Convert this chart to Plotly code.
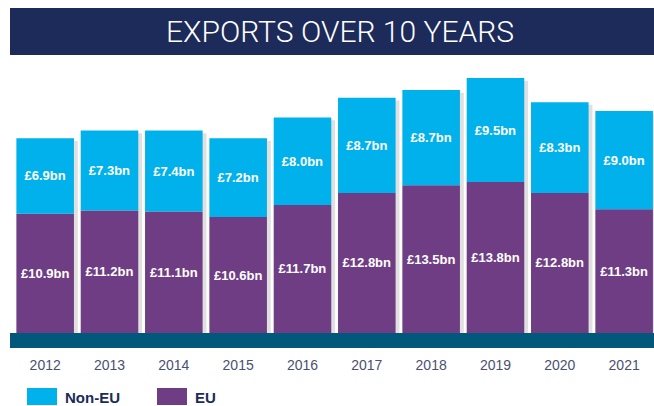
import plotly.graph_objects as go

years = ["2012", "2013", "2014", "2015", "2016", "2017", "2018", "2019", "2020", "2021"]
eu = [10.9, 11.2, 11.1, 10.6, 11.7, 12.8, 13.5, 13.8, 12.8, 11.3]
non_eu = [6.9, 7.3, 7.4, 7.2, 8.0, 8.7, 8.7, 9.5, 8.3, 9.0]
totals = [a + b for a, b in zip(eu, non_eu)]

CYAN = "#00b1eb"
PURPLE = "#6f3d84"
NAVY = "#1c2b59"
TEAL = "#02587b"

W = 0.895  # bar width in category units
L, PW, PH, BOT = 13, 641, 273, 333  # plot area in pixels


def px(x):
    return (x - L) / PW


def py(y):
    return (BOT - y) / PH


fig = go.Figure()
# soft shadow on the right of each bar
fig.add_trace(go.Bar(x=years, y=[t - 0.25 for t in totals], base=0, width=W, offset=-W / 2 + 0.06,
                     marker_color="#e0e0e0", hoverinfo="skip"))
fig.add_trace(go.Bar(x=years, y=eu, name="EU", marker_color=PURPLE, width=W, offset=-W / 2,
                     texttemplate="£%{y:.1f}bn", textposition="inside",
                     insidetextanchor="middle"))
fig.add_trace(go.Bar(x=years, y=non_eu, base=eu, name="Non-EU", marker_color=CYAN,
                     width=W, offset=-W / 2,
                     texttemplate="£%{y:.1f}bn", textposition="inside",
                     insidetextanchor="middle"))
fig.update_traces(marker_line_width=0,
                  textfont=dict(family="Liberation Sans", size=13, color="white", weight="bold"),
                  textangle=0, constraintext="none")

fig.update_layout(
    width=654, height=406,
    margin=dict(l=L, r=0, t=60, b=73),
    barmode="overlay",
    plot_bgcolor="white", paper_bgcolor="white",
    showlegend=False,
    uniformtext=dict(minsize=13, mode="show"),
    xaxis=dict(showgrid=False, zeroline=False, showline=False, ticks="",
               range=[-0.5, -0.5 + PW / 64.33],
               tickfont=dict(family="Liberation Sans", size=14, color="#4a5072"),
               ticklabelstandoff=22),
    yaxis=dict(range=[0, 24.95], visible=False),
)

# title bar
fig.add_shape(type="rect", xref="paper", yref="paper", x0=px(10), x1=px(654),
              y0=py(55), y1=py(8), fillcolor=NAVY, line_width=0, layer="below")
fig.add_annotation(text="EXPORTS OVER 10 YEARS", xref="paper", yref="paper",
                   x=px(340), y=py(32), showarrow=False,
                   font=dict(family="Roboto", size=30, color="white", weight=300),
                   xanchor="center", yanchor="middle")

# teal base band
fig.add_shape(type="rect", xref="paper", yref="paper", x0=px(10), x1=px(654),
              y0=py(348), y1=py(333), fillcolor=TEAL, line_width=0)

# legend
legend_items = [("Non-EU", CYAN), ("EU", PURPLE)]
lx = [27, 157]
for (name, col), x0 in zip(legend_items, lx):
    fig.add_shape(type="rect", xref="paper", yref="paper",
                  x0=px(x0), x1=px(x0 + 30), y0=py(405), y1=py(388),
                  fillcolor=col, line_width=0)
    fig.add_annotation(text=name, xref="paper", yref="paper",
                       x=px(x0 + 36), y=py(397),
                       xanchor="left", yanchor="middle", showarrow=False,
                       font=dict(family="Liberation Sans", size=15, color=NAVY, weight="bold"))

fig.write_html("out.html", config={"displayModeBar": False},
               post_script="document.body.style.margin='0';document.body.style.overflow='hidden';")
